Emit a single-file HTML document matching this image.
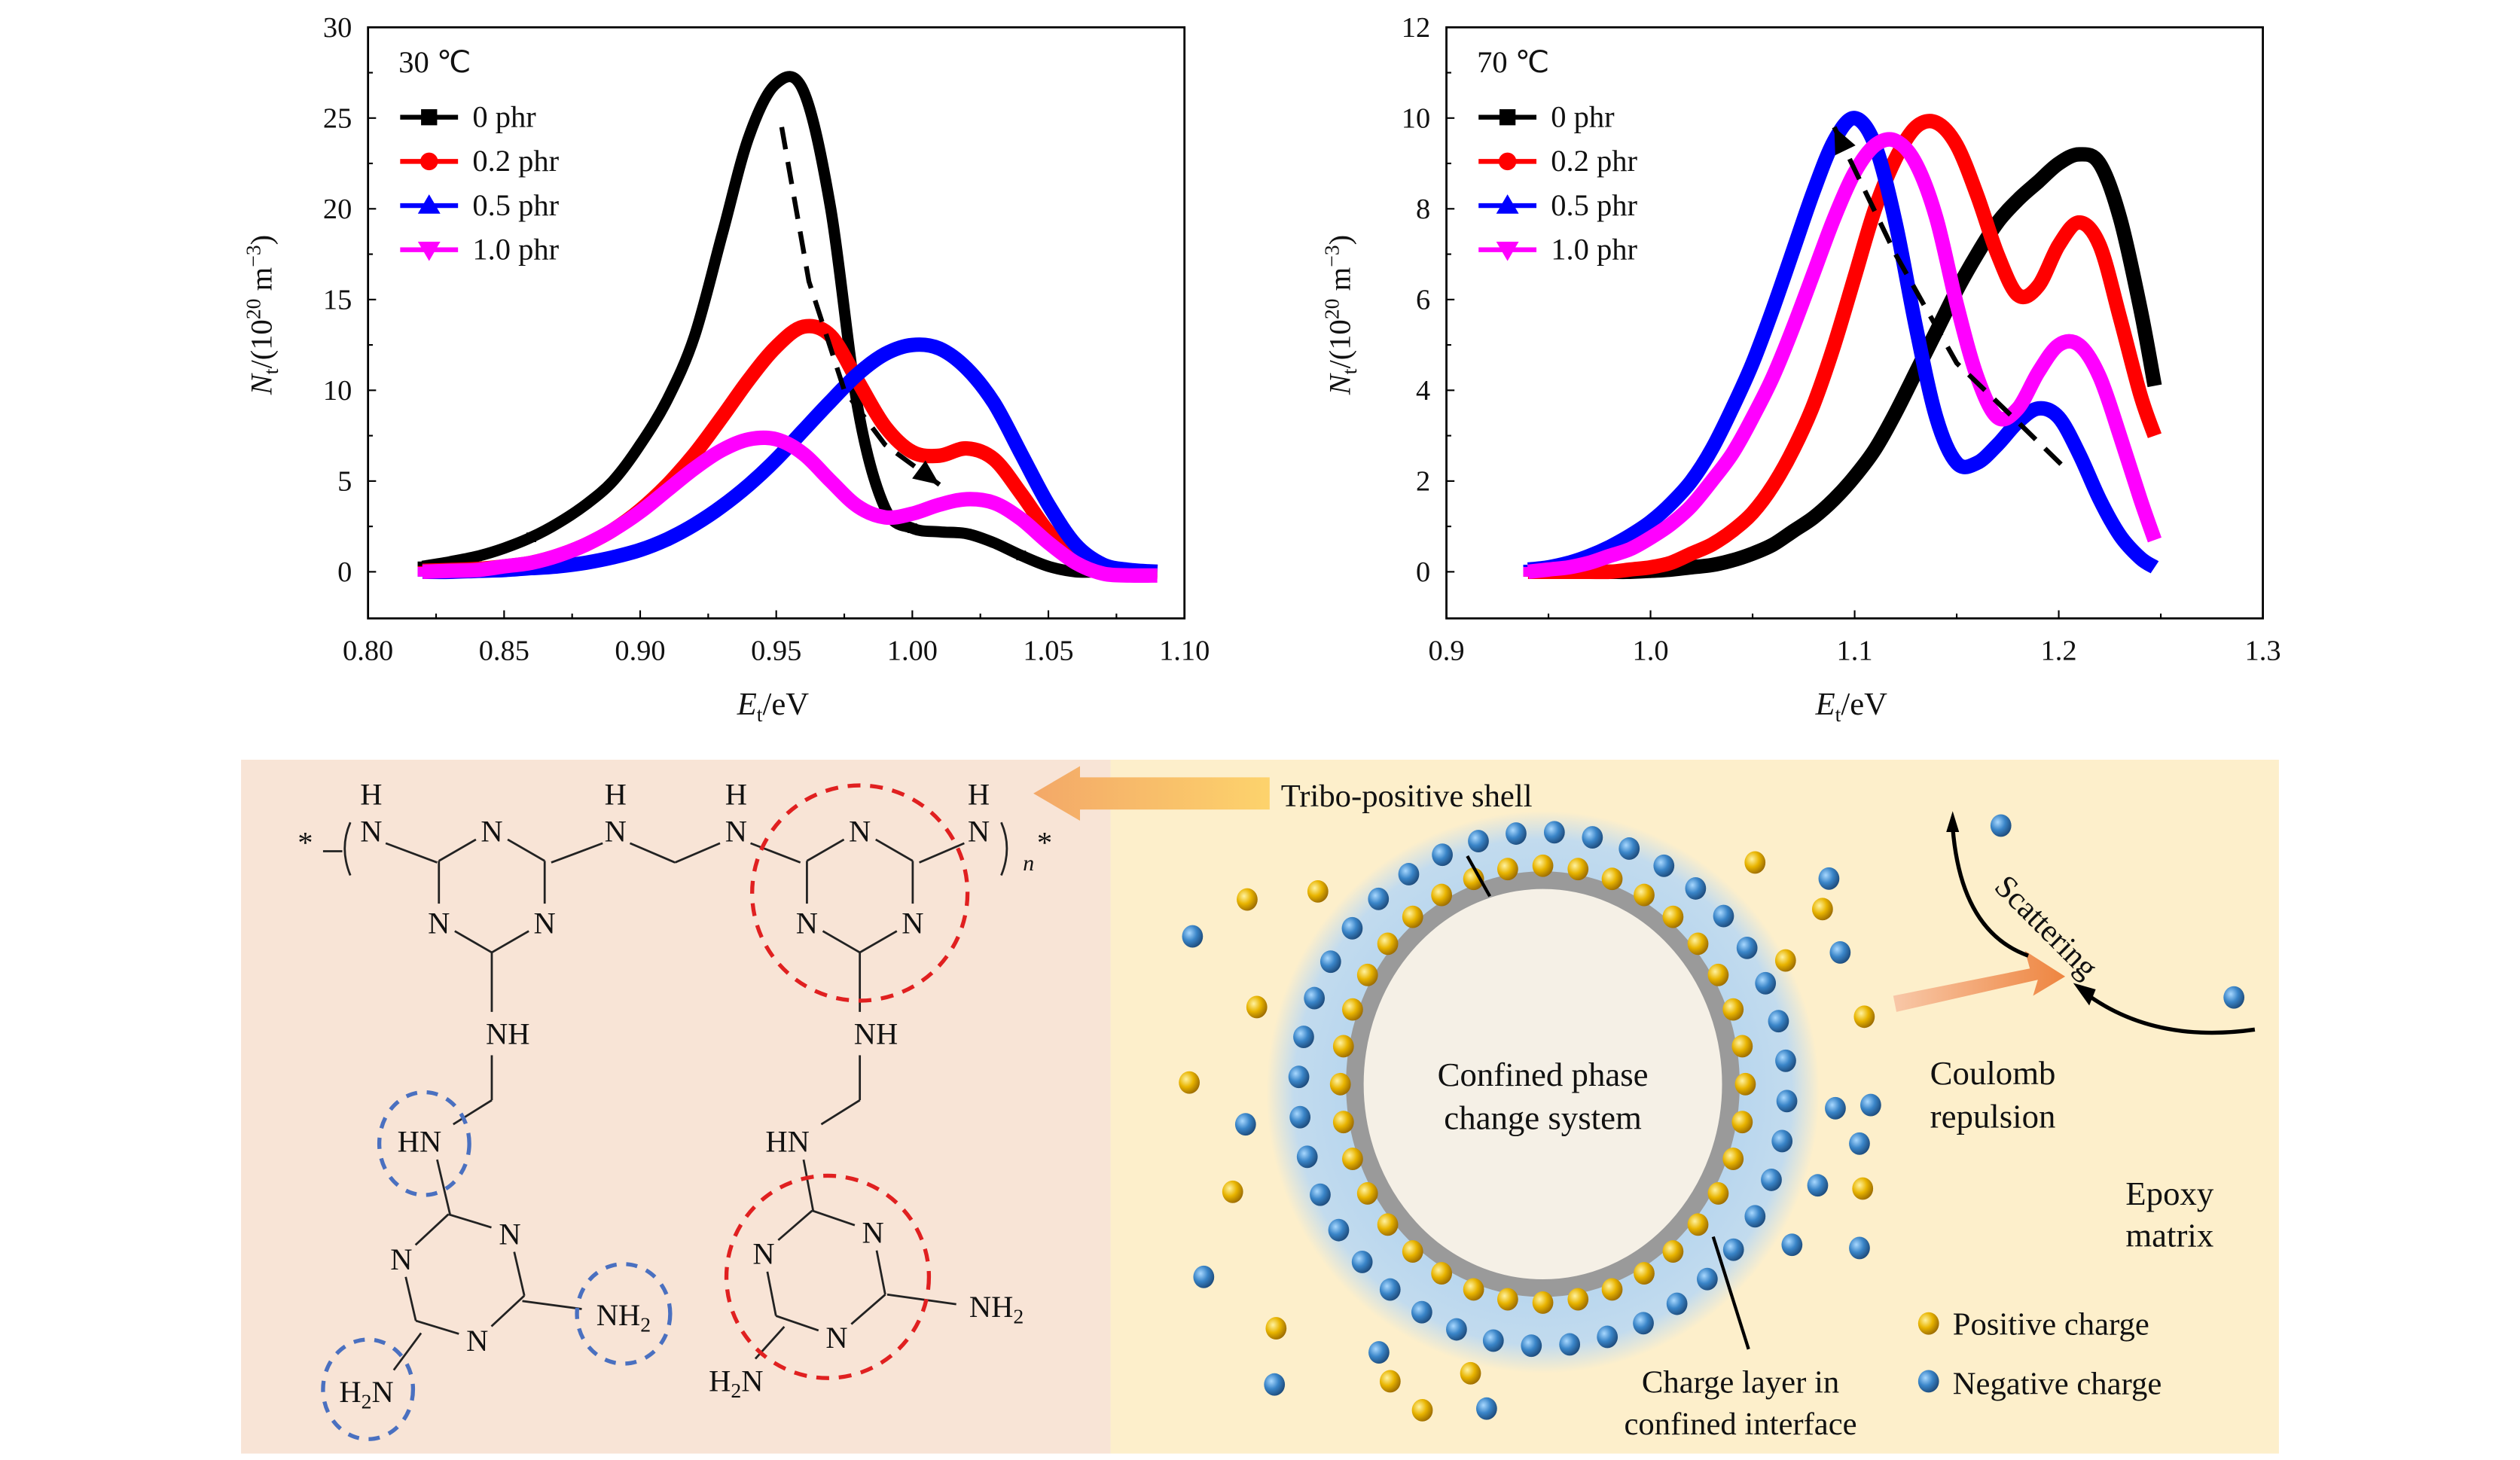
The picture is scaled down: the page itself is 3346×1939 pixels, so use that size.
<!DOCTYPE html>
<html><head><meta charset="utf-8">
<style>
html,body{margin:0;padding:0;background:#fff}
svg{display:block}
text{font-family:"Liberation Serif",serif;fill:#111}
</style></head>
<body>
<svg id="root" width="3346" height="1939" viewBox="0 0 1568 909" preserveAspectRatio="none" xmlns="http://www.w3.org/2000/svg">
<defs>
<radialGradient id="yel" cx="0.35" cy="0.35" r="0.7"><stop offset="0" stop-color="#fff2a0"/><stop offset="0.5" stop-color="#e8b400"/><stop offset="1" stop-color="#9a6a00"/></radialGradient>
<radialGradient id="blu" cx="0.35" cy="0.35" r="0.7"><stop offset="0" stop-color="#a8d8ff"/><stop offset="0.5" stop-color="#3a85c8"/><stop offset="1" stop-color="#1d4a7a"/></radialGradient>
<radialGradient id="glow" cx="0.5" cy="0.5" r="0.5"><stop offset="0.7" stop-color="#b8d6ee"/><stop offset="0.9" stop-color="#c2dbee"/><stop offset="1" stop-color="#c2dbee" stop-opacity="0"/></radialGradient>
<linearGradient id="arr1" x1="1" y1="0" x2="0" y2="0"><stop offset="0" stop-color="#fdd36c"/><stop offset="1" stop-color="#f3a868"/></linearGradient>
<linearGradient id="arr2" x1="0" y1="0" x2="1" y2="0"><stop offset="0" stop-color="#f8c8a8"/><stop offset="1" stop-color="#ee8540"/></linearGradient>
</defs>
<g id="charts"></g>
<g id="bottom">
  <rect x="150" y="473" width="541" height="432" fill="#f8e4d6"/>
  <rect x="691" y="473" width="727" height="432" fill="#fdefcb"/>
  <g id="chem" stroke="#222" stroke-width="1.3" fill="none"></g>
  <g id="schem"></g>
</g>
</svg>
<script>
// ---------- chart data ----------
const x30 = [0.82,0.83,0.84,0.85,0.86,0.87,0.88,0.89,0.90,0.91,0.92,0.93,0.94,0.95,0.96,0.97,0.98,0.99,1.00,1.01,1.02,1.03,1.04,1.05,1.06,1.07,1.08,1.09];
const s30_0  = [0.3,0.55,0.85,1.3,1.9,2.7,3.7,5,7,9.5,13,18.5,24,26.9,26.5,20,9,3.5,2.4,2.2,2.1,1.6,0.9,0.3,0,0,0,0];
const s30_02 = [0.05,0.1,0.15,0.3,0.5,0.9,1.5,2.3,3.4,4.8,6.5,8.5,10.6,12.4,13.5,13,10.5,8,6.6,6.4,6.8,6.2,4.3,2.2,0.8,0.2,0,0];
const s30_05 = [0,0,0.05,0.1,0.2,0.3,0.5,0.8,1.2,1.8,2.6,3.6,4.8,6.2,7.8,9.4,10.9,12,12.5,12.3,11.2,9.3,6.5,3.7,1.5,0.4,0.1,0];
const s30_10 = [0,0.05,0.1,0.3,0.5,0.9,1.5,2.3,3.3,4.5,5.7,6.7,7.3,7.3,6.5,5,3.6,3,3.2,3.7,4,3.8,2.9,1.6,0.5,-0.1,-0.2,-0.2];
const dash30x = [0.952,0.962,0.975,0.99,1.01];
const dash30y = [24.5,16,10,7,4.8];
const x70 = [0.94,0.95,0.96,0.97,0.98,0.99,1.00,1.01,1.02,1.03,1.04,1.05,1.06,1.07,1.08,1.09,1.10,1.11,1.12,1.13,1.14,1.15,1.16,1.17,1.18,1.19,1.20,1.21,1.22,1.23,1.24,1.247];
const s70_0  = [0,0,0,0,0,0,0.02,0.05,0.1,0.15,0.25,0.4,0.6,0.9,1.2,1.6,2.1,2.7,3.5,4.4,5.3,6.2,7,7.7,8.2,8.6,9,9.2,9,7.8,5.8,4.1];
const s70_02 = [0,0,0,0,0,0.05,0.1,0.2,0.4,0.6,0.9,1.3,1.9,2.7,3.7,5,6.5,8,9.1,9.8,9.9,9.4,8.3,7,6.1,6.3,7.2,7.7,7.2,5.6,3.9,3.0];
const s70_05 = [0.05,0.1,0.2,0.35,0.55,0.8,1.1,1.5,2,2.7,3.6,4.6,5.8,7.1,8.4,9.5,10,9.4,7.7,5.4,3.4,2.4,2.4,2.8,3.3,3.6,3.4,2.6,1.6,0.8,0.3,0.1];
const s70_10 = [0,0.05,0.1,0.2,0.35,0.5,0.75,1.05,1.45,2,2.6,3.4,4.3,5.4,6.6,7.8,8.8,9.4,9.5,9,7.8,5.9,4.3,3.4,3.6,4.4,5,5,4.3,3,1.6,0.7];
const dash70x = [1.09,1.12,1.15,1.18,1.205];
const dash70y = [9.8,7,4.6,3.3,2.2];
const xt30 = ["0.80","0.85","0.90","0.95","1.00","1.05","1.10"];
const yt30 = ["0","5","10","15","20","25","30"];
const xt70 = ["0.9","1.0","1.1","1.2","1.3"];
const yt70 = ["0","2","4","6","8","10","12"];
const legendLabels = ["0 phr","0.2 phr","0.5 phr","1.0 phr"];
const colors = ["#000","#f00","#00f","#f0f"];

const NS="http://www.w3.org/2000/svg";
function mk(tag,attrs,parent){const e=document.createElementNS(NS,tag);for(const k in attrs)e.setAttribute(k,attrs[k]);if(parent)parent.appendChild(e);return e;}
function smooth(P){let d='M'+P[0][0].toFixed(1)+','+P[0][1].toFixed(1);
  for(let i=0;i<P.length-1;i++){const p0=P[Math.max(i-1,0)],p1=P[i],p2=P[i+1],p3=P[Math.min(i+2,P.length-1)];
    const c1=[p1[0]+(p2[0]-p0[0])/6,p1[1]+(p2[1]-p0[1])/6],c2=[p2[0]-(p3[0]-p1[0])/6,p2[1]-(p3[1]-p1[1])/6];
    d+=`C${c1[0].toFixed(1)},${c1[1].toFixed(1)} ${c2[0].toFixed(1)},${c2[1].toFixed(1)} ${p2[0].toFixed(1)},${p2[1].toFixed(1)}`;}
  return d;}

function chart(cfg){
  const g=mk('g',{},document.getElementById('charts'));
  
  
  const L=cfg.L,R=cfg.R,T=17,B=385,Y0=356;
  const sx=v=>L+(v-cfg.xmin)/(cfg.xmax-cfg.xmin)*(R-L);
  const sy=v=>Y0-(v/cfg.ymax)*(Y0-T);
  const cid='clip'+cfg.name;
  const cp=mk('clipPath',{id:cid},g);mk('rect',{x:L,y:T,width:R-L,height:B-T},cp);
  cfg.xt.forEach(t=>{const v=parseFloat(t),x=sx(v);
    mk('line',{x1:x,x2:x,y1:B,y2:B-5,stroke:'#000','stroke-width':1},g);
    const tx=mk('text',{x:x,y:B+26,'text-anchor':'middle','font-size':18},g);tx.textContent=t;
    });
  for(let i=0;i<cfg.xt.length-1;i++){const v=(parseFloat(cfg.xt[i])+parseFloat(cfg.xt[i+1]))/2;mk('line',{x1:sx(v),x2:sx(v),y1:B,y2:B-3,stroke:'#000'},g);}
  cfg.yt.forEach((t,i)=>{const v=parseFloat(t),y=sy(v);
    mk('line',{x1:L,x2:L+5,y1:y,y2:y,stroke:'#000'},g);
    const tx=mk('text',{x:L-10,y:y+6,'text-anchor':'end','font-size':18},g);tx.textContent=t;
    
    if(i<cfg.yt.length-1){const m=(v+parseFloat(cfg.yt[i+1]))/2;mk('line',{x1:L,x2:L+3,y1:sy(m),y2:sy(m),stroke:'#000'},g);}
  });
  const sg=mk('g',{'clip-path':`url(#${cid})`},g);
  cfg.series.forEach((s,k)=>{
    const P=s.map((v,i)=>[sx(cfg.x[i]),sy(v)]);
    const p=mk('path',{d:smooth(P),fill:'none',stroke:colors[k],'stroke-width':k==0&&cfg.name=='chart-30c'?7:9,'stroke-linejoin':'round'},sg);
    
    
    s.forEach((v,i)=>{if(i%2==0&&v<cfg.ymax*0.1){mk('rect',{x:sx(cfg.x[i])-3,y:sy(v)-3,width:6,height:6,fill:colors[k]},sg);}});
  });
  const dd=cfg.dx.map((v,i)=>(i?'L':'M')+sx(v)+','+sy(cfg.dy[i])).join('');
  const dp=mk('path',{d:dd,fill:'none',stroke:'#000','stroke-width':3,'stroke-dasharray':'14 8'},g);
  
  const ai=cfg.arrowEnd?cfg.dx.length-1:0;
  const ax=sx(cfg.dx[ai]),ay=sy(cfg.dy[ai]);
  const bi=cfg.arrowEnd?ai-1:1;const bx=sx(cfg.dx[bi]),by=sy(cfg.dy[bi]);
  const ang=Math.atan2(ay-by,ax-bx);
  const h=16,w=7;
  const pts=[[ax,ay],[ax-h*Math.cos(ang)+w*Math.sin(ang),ay-h*Math.sin(ang)-w*Math.cos(ang)],[ax-h*Math.cos(ang)-w*Math.sin(ang),ay-h*Math.sin(ang)+w*Math.cos(ang)]];
  mk('polygon',{points:pts.map(p=>p.join(',')).join(' '),fill:'#000'},g);
  const fr=mk('rect',{x:L,y:T,width:R-L,height:B-T,fill:'none',stroke:'#000','stroke-width':1.3},g);
  
  const tt=mk('text',{x:L+19,y:45,'font-size':19},g);tt.textContent=cfg.title;
  
  legendLabels.forEach((lab,k)=>{const y=73+k*27.5;
    const le=mk('g',{},g);
    mk('line',{x1:L+20,x2:L+56,y1:y,y2:y,stroke:colors[k],'stroke-width':3},le);
    if(k==0)mk('rect',{x:L+33,y:y-5,width:10,height:10,fill:colors[k]},le);
    else if(k==1)mk('circle',{cx:L+38,cy:y,r:5.5,fill:colors[k]},le);
    else if(k==2)mk('polygon',{points:`${L+38},${y-7} ${L+31},${y+5} ${L+45},${y+5}`,fill:colors[k]},le);
    else mk('polygon',{points:`${L+38},${y+7} ${L+31},${y-5} ${L+45},${y-5}`,fill:colors[k]},le);
    const t=mk('text',{x:L+65,y:y+6,'font-size':19},le);t.textContent=lab;});
  const xtl=mk('text',{x:(L+R)/2-2,y:445,'text-anchor':'middle','font-size':20},g);
  xtl.innerHTML='<tspan font-style="italic">E</tspan><tspan font-size="13" dy="4">t</tspan><tspan dy="-4">/eV</tspan>';
  
  const ytl=mk('text',{transform:`translate(${L-60},${(T+B)/2-5}) rotate(-90)`,'text-anchor':'middle','font-size':19},g);
  ytl.innerHTML='<tspan font-style="italic">N</tspan><tspan font-size="13" dy="4">t</tspan><tspan dy="-4">/(10</tspan><tspan font-size="13" dy="-7">20</tspan><tspan dy="7"> m</tspan><tspan font-size="13" dy="-7">−3</tspan><tspan dy="7">)</tspan>';
  
}
chart({name:'chart-30c',L:229,R:737,xmin:0.80,xmax:1.10,ymax:30,x:x30,series:[s30_0,s30_02,s30_05,s30_10],xt:xt30,yt:yt30,title:'30 ℃',dx:dash30x,dy:dash30y,arrowEnd:true});
chart({name:'chart-70c',L:900,R:1408,xmin:0.9,xmax:1.3,ymax:12,x:x70,series:[s70_0,s70_02,s70_05,s70_10],xt:xt70,yt:yt70,title:'70 ℃',dx:dash70x,dy:dash70y,arrowEnd:false});

// ---------- chemical structure ----------
const chem=document.getElementById('chem');
function line(a,b,c,d,p){mk('line',{x1:a,y1:b,x2:c,y2:d},p||chem);}
function txt(x,y,s,p,size){const t=mk('text',{x:x,y:y,'text-anchor':'middle','font-size':size||19,stroke:'none'},p||document.getElementById('schem'));t.innerHTML=s;return t;}
function ring(cx,cy,r,rot,nIdx){const v=[];for(let i=0;i<6;i++){const a=(rot+60*i-90)*Math.PI/180;v.push([cx+r*Math.cos(a),cy+r*Math.sin(a)]);}
  for(let i=0;i<6;i++){const a=v[i],b=v[(i+1)%6];
    const ia=nIdx.includes(i),ib=nIdx.includes((i+1)%6);
    const fa=ia?0.3:0,fb=ib?0.3:0;
    line(a[0]+(b[0]-a[0])*fa,a[1]+(b[1]-a[1])*fa,b[0]+(a[0]-b[0])*fb,b[1]+(a[1]-b[1])*fb);}
  nIdx.forEach(i=>{txt(v[i][0],v[i][1]+7,'N',chem);});return v;}
ring(306,555,38,0,[0,2,4]);
ring(535,555,38,0,[0,2,4]);
ring(288,795,40,47,[0,2,4]);
ring(513,793,40,49,[0,2,4]);
line(240,525,272,537);line(343,537,375,525);line(392,525,420,537);line(420,537,448,525);line(467,525,498,537);line(572,537,600,525);
txt(231,524,'N',chem);txt(231,501,'H',chem);txt(383,524,'N',chem);txt(383,501,'H',chem);txt(458,524,'N',chem);txt(458,501,'H',chem);txt(609,524,'N',chem);txt(609,501,'H',chem);
line(201,530,213,530);
txt(190,531,'*',chem);txt(650,531,'*',chem);txt(640,542,'<tspan font-style="italic" font-size="14">n</tspan>',chem);
mk('path',{d:'M218,512 Q211,528 218,545'},chem);mk('path',{d:'M623,512 Q630,528 623,545'},chem);
line(306,593,306,630);txt(316,650,'NH',chem);line(306,657,306,685);line(306,685,282,700);txt(261,717,'HN',chem);line(272,722,280,756);
line(535,593,535,630);txt(545,650,'NH',chem);line(535,657,535,685);line(535,685,511,700);txt(490,717,'HN',chem);line(500,722,506,754);
txt(388,825,'NH<tspan font-size="13" dy="4">2</tspan>',chem);line(325,810,362,815);
txt(228,873,'H<tspan font-size="13" dy="4">2</tspan><tspan dy="-4">N</tspan>',chem);line(262,830,245,853);
txt(620,820,'NH<tspan font-size="13" dy="4">2</tspan>',chem);line(552,806,595,812);
txt(458,866,'H<tspan font-size="13" dy="4">2</tspan><tspan dy="-4">N</tspan>',chem);line(488,826,470,846);
[[535,556,67,'#e02020'],[515,795,63,'#e02020']].forEach(c=>{const e=mk('circle',{cx:c[0],cy:c[1],r:c[2],stroke:c[3],'stroke-width':2.5,'stroke-dasharray':'8 6',fill:'none'},chem);});
[[264,712,28,32],[388,818,29,31],[229,865,28,31]].forEach(c=>{const e=mk('ellipse',{cx:c[0],cy:c[1],rx:c[2],ry:c[3],stroke:'#4a70c0','stroke-width':2.5,'stroke-dasharray':'7 6',fill:'none'},chem);});

// ---------- schematic ----------
const sc=document.getElementById('schem');
mk('polygon',{points:'790,484 672,484 672,477 643,494 672,511 672,504 790,504',fill:'url(#arr1)'},sc);
const tps=txt(797,502,'Tribo-positive shell',sc,20);tps.setAttribute('text-anchor','start');
mk('ellipse',{cx:960,cy:680,rx:172,ry:175,fill:'url(#glow)'},sc);
mk('ellipse',{cx:960,cy:675,rx:117,ry:127,fill:'#f5f0e6',stroke:'#9a9a9a','stroke-width':11},sc);
txt(960,676,'Confined phase',sc,21);txt(960,703,'change system',sc,21);
function ball(x,y,c){mk('ellipse',{cx:x,cy:y,rx:6.5,ry:7,fill:c?'url(#yel)':'url(#blu)'},sc);}
for(let i=0;i<36;i++){const a=i/36*2*Math.PI;ball(960+126*Math.cos(a),675+136*Math.sin(a),1);}
for(let i=0;i<40;i++){const a=(i+0.3)/40*2*Math.PI;ball(960+152*Math.cos(a),678+160*Math.sin(a),0);}
const outer=[[742,583,0],[740,674,1],[776,560,1],[820,555,1],[782,627,1],[767,742,1],[749,795,0],[794,827,1],[793,862,0],[775,700,0],[885,878,1],[925,877,0],[1092,537,1],[1138,547,0],[1134,566,1],[1111,598,1],[1145,593,0],[1160,633,1],[1164,688,0],[1142,690,0],[1157,712,0],[1159,740,1],[1131,738,0],[1157,777,0],[1115,775,0],[1245,514,0],[1390,621,0],[865,860,1],[858,842,0],[915,855,1]];
outer.forEach(o=>ball(o[0],o[1],o[2]));
mk('line',{x1:913,y1:533,x2:927,y2:558,stroke:'#000','stroke-width':2},sc);
mk('line',{x1:1066,y1:770,x2:1088,y2:840,stroke:'#000','stroke-width':2},sc);
txt(1083,867,'Charge layer in',sc,20);txt(1083,893,'confined interface',sc,20);
mk('polygon',{points:'1180,630 1268,610 1265,620 1285,608 1260,592 1263,603 1178,620',fill:'url(#arr2)'},sc);
txt(1240,675,'Coulomb',sc,21);txt(1240,702,'repulsion',sc,21);
txt(1350,750,'Epoxy',sc,21);txt(1350,776,'matrix',sc,21);
mk('path',{d:'M1215,515 Q1220,580 1262,595',fill:'none',stroke:'#000','stroke-width':2.5},sc);
mk('polygon',{points:'1215,505 1211,518 1219,518',fill:'#000'},sc);
mk('path',{d:'M1403,641 Q1340,650 1297,618',fill:'none',stroke:'#000','stroke-width':2.5},sc);
mk('polygon',{points:'1290,612 1300,626 1304,616',fill:'#000'},sc);
const sct=mk('text',{x:0,y:0,'font-size':20,transform:'translate(1240,553) rotate(45)'},sc);sct.textContent='Scattering';
ball(1200,824,1);const pt=mk('text',{x:1215,y:831,'font-size':20},sc);pt.textContent='Positive charge';
ball(1200,860,0);const nt=mk('text',{x:1215,y:868,'font-size':20},sc);nt.textContent='Negative charge';
</script>
</body></html>
